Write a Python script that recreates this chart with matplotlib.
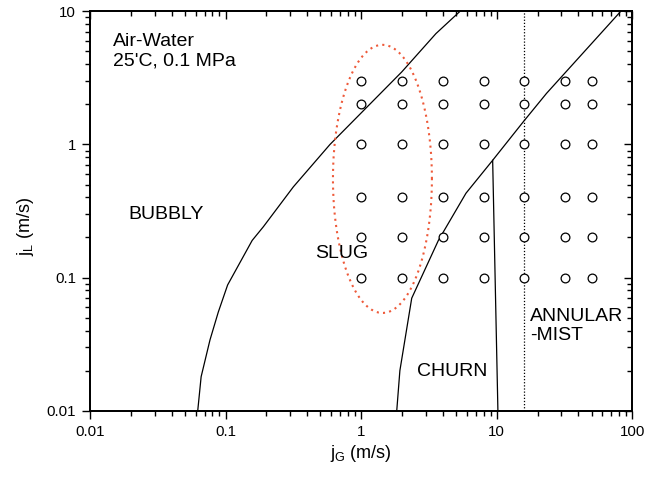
import numpy as np
import matplotlib
matplotlib.use("Agg")
import matplotlib.pyplot as plt
from matplotlib.ticker import FixedLocator, FixedFormatter, LogLocator, NullFormatter

plt.rcParams['font.family'] = ['Liberation Sans', 'DejaVu Sans']

# Experimental points (grid of test conditions)
jg_points = [1, 2, 4, 8, 16, 32, 50]
jl_points = [0.1, 0.2, 0.4, 1, 2, 3]

# Bubbly-slug boundary
bs_jg = [0.0623, 0.066, 0.0767, 0.0883, 0.1035, 0.157, 0.19, 0.316, 0.589, 1.99, 3.56, 5.36]
bs_jl = [0.01, 0.018, 0.034, 0.055, 0.088, 0.19, 0.241, 0.48, 1.0, 3.5, 6.8, 10.0]

# Slug-churn / annular boundary
sc_jg = [1.83, 1.93, 2.36, 3.71, 5.93, 9.33, 15.7, 23.3, 80.0, 82.0]
sc_jl = [0.01, 0.02, 0.07, 0.19, 0.43, 0.76, 1.48, 2.42, 9.7, 10.0]

# Churn-annular boundary
ca_jg = [9.33, 10.2]
ca_jl = [0.76, 0.01]

# Dotted vertical line
vline_jg = 15.9

# Ellipse (log space): center, semi-axes in decades
ell_center = (1.435, 0.551)
ell_semi = (0.365, 1.007)

fig = plt.figure(figsize=(6.61, 4.79), dpi=100)
ax = fig.add_axes([0.1362, 0.1426, 0.8204, 0.8338])
ax.set_xscale('log')
ax.set_yscale('log')
ax.set_xlim(0.01, 100)
ax.set_ylim(0.01, 10)

ax.plot(bs_jg, bs_jl, color='black', lw=0.9)
ax.plot(sc_jg, sc_jl, color='black', lw=0.9)
ax.plot(ca_jg, ca_jl, color='black', lw=0.9)
ax.plot([vline_jg, vline_jg], [0.01, 10], color='black', lw=0.9, linestyle=(0, (1, 1.5)))

t = np.linspace(0, 2 * np.pi, 400)
ex = 10 ** (np.log10(ell_center[0]) + ell_semi[0] * np.cos(t))
ey = 10 ** (np.log10(ell_center[1]) + ell_semi[1] * np.sin(t))
ax.plot(ex, ey, color='#ee5a3a', lw=1.5, linestyle=(0, (1, 2)))

GX, GY = np.meshgrid(jg_points, jl_points)
ax.plot(GX.ravel(), GY.ravel(), linestyle='none', marker='o', markersize=6.3,
        markerfacecolor='white', markeredgecolor='black', markeredgewidth=0.9)

fs = 14
ax.text(0.0148, 5.0, "Air-Water\n25'C, 0.1 MPa", fontsize=fs, ha='left', va='center', linespacing=1.2)
ax.text(0.0191, 0.30, "BUBBLY", fontsize=fs, ha='left', va='center')
ax.text(0.456, 0.152, "SLUG", fontsize=fs, ha='left', va='center')
ax.text(2.57, 0.0198, "CHURN", fontsize=fs, ha='left', va='center')
ax.text(17.6, 0.0433, "ANNULAR\n-MIST", fontsize=fs, ha='left', va='center', linespacing=1.2)

xt = [0.01, 0.1, 1, 10, 100]
xl = ['0.01', '0.1', '1', '10', '100']
yt = [0.01, 0.1, 1, 10]
yl = ['0.01', '0.1', '1', '10']
ax.xaxis.set_major_locator(FixedLocator(xt))
ax.xaxis.set_major_formatter(FixedFormatter(xl))
ax.yaxis.set_major_locator(FixedLocator(yt))
ax.yaxis.set_major_formatter(FixedFormatter(yl))
ax.xaxis.set_minor_locator(LogLocator(base=10, subs=np.arange(2, 10)))
ax.yaxis.set_minor_locator(LogLocator(base=10, subs=np.arange(2, 10)))
ax.xaxis.set_minor_formatter(NullFormatter())
ax.yaxis.set_minor_formatter(NullFormatter())

ax.tick_params(which='both', top=False, right=False, labelsize=10.8, width=1.0,
               colors='black', direction='out')
ax.tick_params(which='major', length=6, pad=4)
ax.tick_params(which='minor', length=3.3)

axt = ax.twiny()
axt.set_xscale('log'); axt.set_xlim(ax.get_xlim())
axt.xaxis.set_major_locator(FixedLocator(xt))
axt.xaxis.set_minor_locator(LogLocator(base=10, subs=np.arange(2, 10)))
axt.xaxis.set_major_formatter(NullFormatter()); axt.xaxis.set_minor_formatter(NullFormatter())
axt.tick_params(which='both', direction='in', width=1.0)
axt.tick_params(which='major', length=6)
axt.tick_params(which='minor', length=3.3)
axr = ax.twinx()
axr.set_yscale('log'); axr.set_ylim(ax.get_ylim())
axr.yaxis.set_major_locator(FixedLocator(yt))
axr.yaxis.set_minor_locator(LogLocator(base=10, subs=np.arange(2, 10)))
axr.yaxis.set_major_formatter(NullFormatter()); axr.yaxis.set_minor_formatter(NullFormatter())
axr.tick_params(which='both', direction='in', width=1.0)
axr.tick_params(which='major', length=6)
axr.tick_params(which='minor', length=3.3)

for a in (ax, axt, axr):
    for s in a.spines.values():
        s.set_linewidth(1.1)

ax.set_xlabel(r'j$_\mathregular{G}$ (m/s)', fontsize=13, labelpad=3)
ax.set_ylabel(r'j$_\mathregular{L}$ (m/s)', fontsize=13)
ax.yaxis.set_label_coords(-0.10, 0.462)

fig.savefig('out.png', dpi=100)
